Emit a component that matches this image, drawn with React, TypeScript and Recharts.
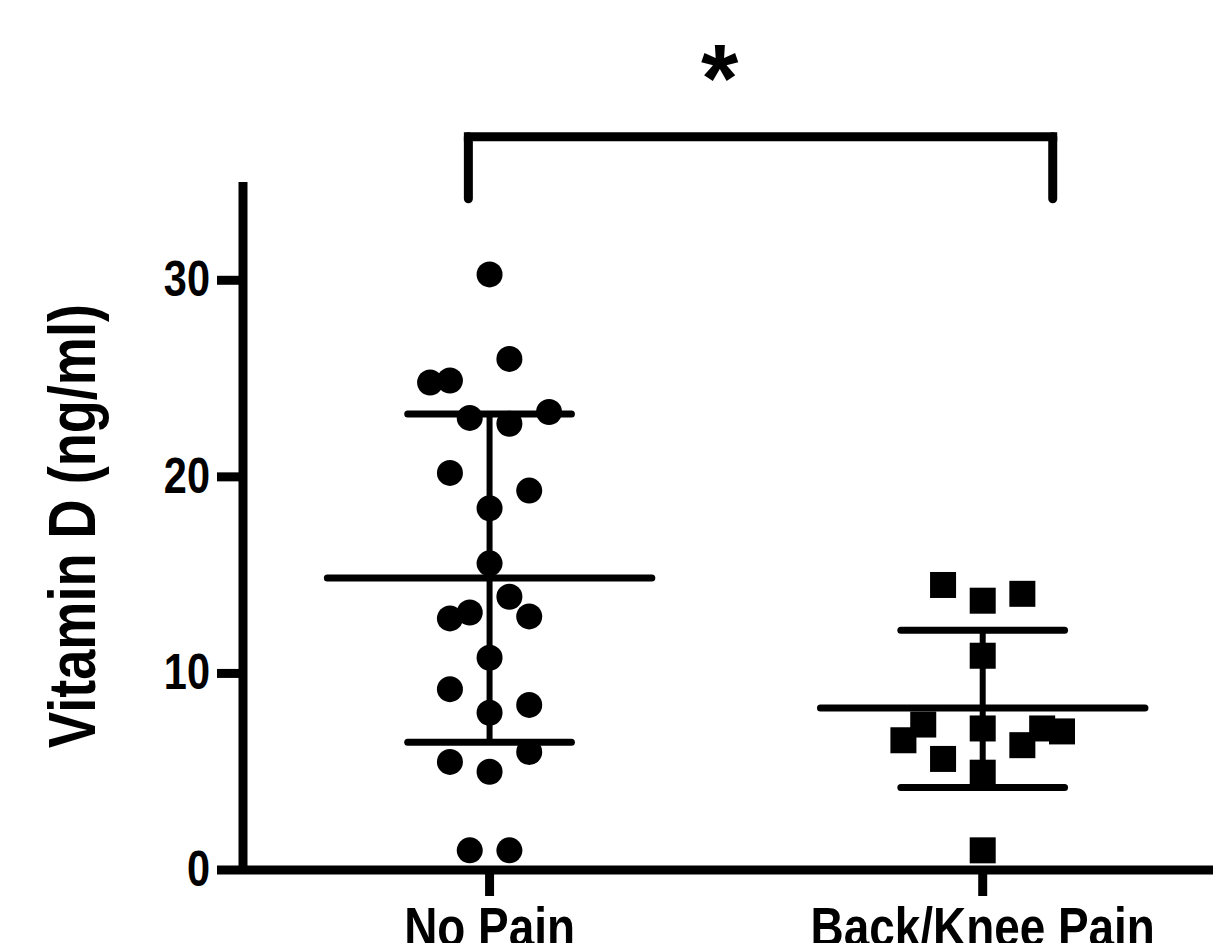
import React from 'react';
import { ScatterChart, Scatter, XAxis, YAxis, ReferenceLine, ReferenceDot } from 'recharts';

const groups = ['No Pain', 'Back/Knee Pain'];
const groupPos = [1, 2];
const yTicks = [0, 10, 20, 30];

const noPainValues = [30.3, 26.0, 24.8, 24.9, 23.3, 23.0, 22.7, 20.2, 19.3, 18.4, 15.6, 13.9, 13.1, 12.8, 12.9, 10.8, 9.2, 8.4, 8.0, 6.0, 5.5, 5.0, 1.0, 1.0];
const noPainCols = [0, 1, -3, -2, 3, -1, 1, -2, 2, 0, 0, 1, -1, -2, 2, 0, -2, 2, 0, 2, -2, 0, -1, 1];
const painValues = [14.5, 13.7, 14.05, 10.9, 7.4, 6.6, 5.65, 7.2, 4.95, 6.35, 7.2, 7.05, 1.0];
const painCols = [-2, 0, 2, 0, -3, -4, -2, 0, 0, 2, 3, 4, 0];

const means = [14.85, 8.24];
const sdHigh = [23.2, 12.2];
const sdLow = [6.5, 4.2];

const bracketFrom = 0.957;
const bracketTo = 2.142;
const bracketTop = 37.3;
const bracketBottom = 34.15;
const starX = 1.4665;
const starY = 38.6;
const starText = '*';

const JITTER = 0.0402;
const MEAN_HALF = 0.329;
const SD_HALF = 0.166;

const noPainData = noPainValues.map((v, i) => ({ x: groupPos[0] + noPainCols[i] * JITTER, y: v }));
const painData = painValues.map((v, i) => ({ x: groupPos[1] + painCols[i] * JITTER, y: v }));

const FONT = '"Liberation Sans", Arial, Helvetica, sans-serif';

const CircleShape = (p: any) => <circle cx={p.cx} cy={p.cy} r={13} fill="#000" />;
const SquareShape = (p: any) => <rect x={p.cx - 13} y={p.cy - 13} width={26} height={26} fill="#000" />;

const YTick = (p: any) => (
  <text
    transform={`translate(${p.x - 2},${p.y + 16}) scale(0.83,1)`}
    textAnchor="end"
    fontFamily={FONT}
    fontWeight="bold"
    fontSize={50}
    fill="#000"
  >
    {p.payload.value}
  </text>
);

const XTick = (p: any) => {
  const idx = groupPos.indexOf(p.payload.value);
  return (
    <text
      transform={`translate(${p.x},946) scale(0.82,1)`}
      textAnchor="middle"
      fontFamily={FONT}
      fontWeight="bold"
      fontSize={56}
      fill="#000"
    >
      {idx >= 0 ? groups[idx] : ''}
    </text>
  );
};

const YLabel = (p: any) => {
  const vb = p.viewBox || { x: 0, y: 182, width: 243, height: 688 };
  const cx = vb.x + 95;
  const cy = vb.y + vb.height / 2;
  return (
    <text
      transform={`translate(${cx},${cy}) rotate(-90) scale(0.82,1)`}
      textAnchor="middle"
      fontFamily={FONT}
      fontWeight="bold"
      fontSize={66}
      fill="#000"
    >
      Vitamin D (ng/ml)
    </text>
  );
};

const StarShape = (p: any) => (
  <text x={p.cx} y={p.cy} textAnchor="middle" fontFamily={FONT} fontWeight="bold" fontSize={96} fill="#000">
    {starText}
  </text>
);

export default function App() {
  return (
    <div style={{ position: 'absolute', left: 0, top: 0, width: 1213, height: 943, background: '#fff' }}>
      <ScatterChart width={1213} height={943} margin={{ top: 182, right: 0, bottom: 0, left: 0 }}>
        <XAxis
          type="number"
          dataKey="x"
          domain={[0.5, 2.467]}
          ticks={groupPos}
          allowDataOverflow
          height={73}
          tickSize={26}
          tickMargin={4}
          axisLine={{ stroke: '#000', strokeWidth: 9 }}
          tickLine={{ stroke: '#000', strokeWidth: 9 }}
          tick={<XTick />}
        />
        <YAxis
          type="number"
          dataKey="y"
          domain={[0, 35]}
          ticks={yTicks}
          allowDataOverflow
          width={243}
          tickSize={26}
          tickMargin={5}
          axisLine={{ stroke: '#000', strokeWidth: 9 }}
          tickLine={{ stroke: '#000', strokeWidth: 9 }}
          tick={<YTick />}
          label={{ content: <YLabel /> } as any}
        />
        {groupPos.map((g, i) => (
          <ReferenceLine
            key={`mean-${i}`}
            segment={[{ x: g - MEAN_HALF, y: means[i] }, { x: g + MEAN_HALF, y: means[i] }]}
            stroke="#000"
            strokeWidth={7}
            strokeLinecap="round"
            ifOverflow="visible"
          />
        ))}
        {groupPos.map((g, i) => (
          <ReferenceLine
            key={`sdh-${i}`}
            segment={[{ x: g - SD_HALF, y: sdHigh[i] }, { x: g + SD_HALF, y: sdHigh[i] }]}
            stroke="#000"
            strokeWidth={7}
            strokeLinecap="round"
            ifOverflow="visible"
          />
        ))}
        {groupPos.map((g, i) => (
          <ReferenceLine
            key={`sdl-${i}`}
            segment={[{ x: g - SD_HALF, y: sdLow[i] }, { x: g + SD_HALF, y: sdLow[i] }]}
            stroke="#000"
            strokeWidth={7}
            strokeLinecap="round"
            ifOverflow="visible"
          />
        ))}
        {groupPos.map((g, i) => (
          <ReferenceLine
            key={`sdv-${i}`}
            segment={[{ x: g, y: sdLow[i] }, { x: g, y: sdHigh[i] }]}
            stroke="#000"
            strokeWidth={6}
            ifOverflow="visible"
          />
        ))}
        <ReferenceLine
          segment={[{ x: bracketFrom, y: bracketTop }, { x: bracketTo, y: bracketTop }]}
          stroke="#000"
          strokeWidth={9}
          strokeLinecap="square"
          ifOverflow="visible"
        />
        <ReferenceLine
          segment={[{ x: bracketFrom, y: bracketTop }, { x: bracketFrom, y: bracketBottom }]}
          stroke="#000"
          strokeWidth={9}
          strokeLinecap="round"
          ifOverflow="visible"
        />
        <ReferenceLine
          segment={[{ x: bracketTo, y: bracketTop }, { x: bracketTo, y: bracketBottom }]}
          stroke="#000"
          strokeWidth={9}
          strokeLinecap="round"
          ifOverflow="visible"
        />
        <ReferenceDot x={starX} y={starY} r={0} ifOverflow="visible" shape={<StarShape />} />
        <Scatter data={noPainData} shape={<CircleShape />} isAnimationActive={false} />
        <Scatter data={painData} shape={<SquareShape />} isAnimationActive={false} />
      </ScatterChart>
    </div>
  );
}
